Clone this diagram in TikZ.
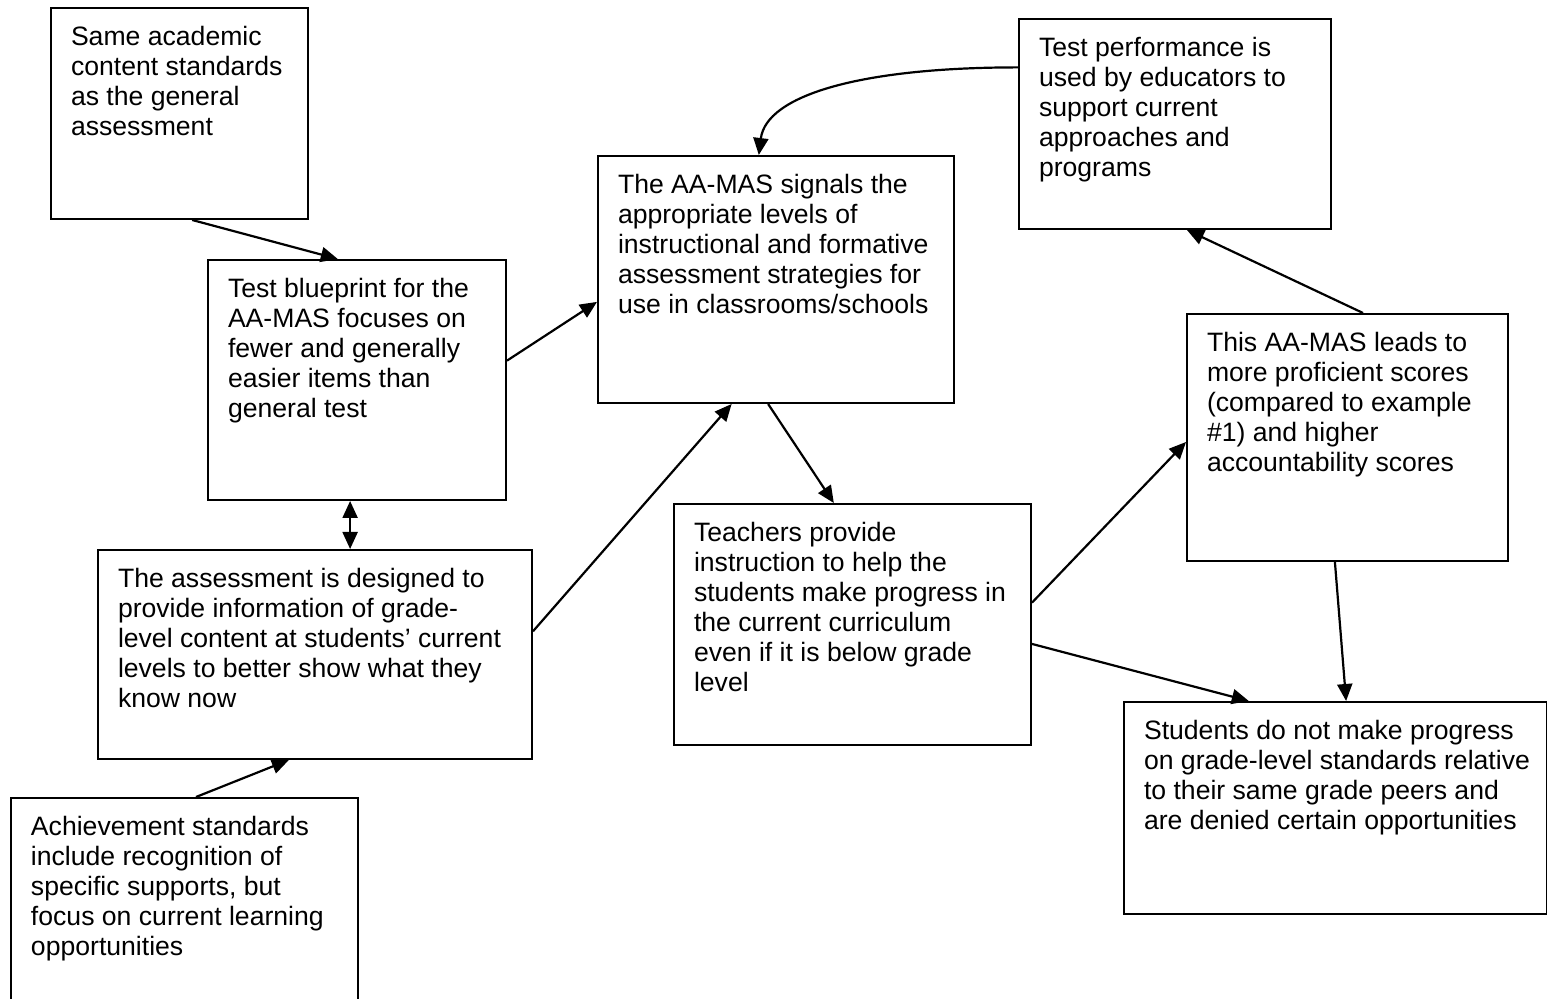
\documentclass[tikz,border=0pt]{standalone}
\usepackage{fontspec}
\setmainfont{Liberation Sans}
\usepackage{tikz}
\usetikzlibrary{arrows.meta}
\usetikzlibrary{calc}

\newcommand{\blktext}[3]{\parbox[t][#2][t]{#1}{\raggedright #3}}

\tikzset{
  blk/.style={draw, line width=1pt, anchor=north west, inner xsep=10pt, inner ysep=9pt,
    font=\fontsize{13.3}{15}\selectfont},
  conn/.style={line width=1.1pt, -{Triangle[length=8.5pt,width=7.5pt]}},
  conn2/.style={line width=1.1pt, {Triangle[length=8.5pt,width=7.5pt]}-{Triangle[length=8.5pt,width=7.5pt]}}
}

\begin{document}
\begin{tikzpicture}[x=0.5pt, y=-0.5pt]
  \path[use as bounding box, fill=white] (0,0) rectangle (1547,999);

  % the boxes
  \node[blk] (same) at (50,7) {\blktext{108.5pt}{87.5pt}{Same academic\\content standards\\as the general\\assessment}};
  \node[blk] (blueprint) at (207,259) {\blktext{129pt}{102pt}{Test blueprint for the\\AA-MAS focuses on\\fewer and generally\\easier items than\\general test}};
  \node[blk] (signals) at (597,155) {\blktext{158pt}{105.5pt}{The AA-MAS signals the\\appropriate levels of\\instructional and formative\\assessment strategies for\\use in classrooms/schools}};
  \node[blk] (perf) at (1018,18) {\blktext{136pt}{87pt}{Test performance is\\used by educators to\\support current\\approaches and\\programs}};
  \node[blk] (leads) at (1186,313) {\blktext{140.5pt}{105.5pt}{This AA-MAS leads to\\more proficient scores\\(compared to example\\\#1) and higher\\accountability scores}};
  \node[blk] (design) at (97,549) {\blktext{197pt}{86.5pt}{The assessment is designed to\\provide information of grade-\\level content at students' current\\levels to better show what they\\know now}};
  \node[blk] (teach) at (673,503) {\blktext{158.5pt}{102.5pt}{Teachers provide\\instruction to help the\\students make progress in\\the current curriculum\\even if it is below grade\\level}};
  \node[blk] (denied) at (1123,701) {\blktext{191.5pt}{88pt}{Students do not make progress\\\mbox{on grade-level standards relative}\\to their same grade peers and\\are denied certain opportunities}};
  \node[blk] (achieve) at (10,797) {\blktext{153.5pt}{88pt}{Achievement standards\\include recognition of\\specific supports, but\\focus on current learning\\opportunities}};

  % the arrows
  \draw[conn] ($(same.south west)!0.549!(same.south east)$) -- ($(blueprint.north west)!0.436!(blueprint.north east)$);
  \draw[conn] ($(blueprint.north east)!0.42!(blueprint.south east)$) -- ($(signals.north west)!0.59!(signals.south west)$);
  \draw[conn2] ($(blueprint.south west)!0.477!(blueprint.south east)$) coordinate (bd) -- (bd |- design.north);
  \draw[conn] ($(achieve.north west)!0.533!(achieve.north east)$) -- ($(design.south west)!0.44!(design.south east)$);
  \draw[conn] ($(design.north east)!0.39!(design.south east)$) -- ($(signals.south west)!0.376!(signals.south east)$);
  \draw[conn] ($(perf.north west)!0.233!(perf.south west)$) to[out=180, in=83, out distance=79pt, in distance=30pt] ($(signals.north west)!0.452!(signals.north east)$);
  \draw[conn] ($(signals.south west)!0.478!(signals.south east)$) -- ($(teach.north west)!0.448!(teach.north east)$);
  \draw[conn] ($(teach.north east)!0.41!(teach.south east)$) -- ($(leads.north west)!0.518!(leads.south west)$);
  \draw[conn] ($(teach.north east)!0.58!(teach.south east)$) -- ($(denied.north west)!0.296!(denied.north east)$);
  \draw[conn] ($(leads.south west)!0.461!(leads.south east)$) -- ($(denied.north west)!0.525!(denied.north east)$);
  \draw[conn] ($(leads.north west)!0.548!(leads.north east)$) -- ($(perf.south west)!0.538!(perf.south east)$);
\end{tikzpicture}
\end{document}
